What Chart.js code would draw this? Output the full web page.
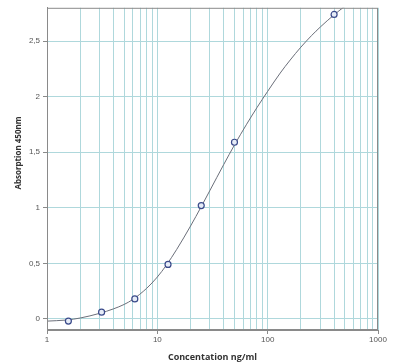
<!DOCTYPE html>
<html>
<head>
<meta charset="utf-8">
<script src="https://cdn.jsdelivr.net/npm/chart.js@4"></script>
<style>
  html, body { margin: 0; padding: 0; background: #fff; }
  #wrap { width: 399px; height: 363px; }
</style>
</head>
<body>
<div id="wrap"><canvas id="chart"></canvas></div>
<script>
// standard points (concentration ng/ml, absorption)
const stdConc = [1.5625, 3.125, 6.25, 12.5, 25, 50, 400];
const stdAbs = [-0.02, 0.06, 0.18, 0.49, 1.02, 1.59, 2.74];

// fitted curve
const fitConc = [1, 1.5, 2, 3, 4, 5, 6, 8, 10, 12, 15, 20, 25, 30, 40, 50, 64, 80, 100, 130, 160, 200, 250, 300, 400, 490];
const fitAbs = [-0.02, -0.01, 0.008, 0.05, 0.09, 0.13, 0.175, 0.275, 0.377, 0.48, 0.626, 0.836, 1.01, 1.157, 1.39, 1.565, 1.747, 1.902, 2.048, 2.213, 2.33, 2.446, 2.55, 2.627, 2.737, 2.807];

const yTicks = [0, 0.5, 1, 1.5, 2, 2.5];
const xMajor = [1, 10, 100, 1000];
const xMinorSteps = [1, 2, 3, 4, 5, 6, 7, 8, 9];

const GRID = '#afd8dc';
const AXIS = '#8a8a8a';
const TEXT = '#555';

const xTickValues = [];
xMajor.slice(0, -1).forEach((d) => xMinorSteps.forEach((m) => xTickValues.push(d * m)));
xTickValues.push(xMajor[xMajor.length - 1]);

const isMajor = (v) => xMajor.includes(v);

const frame = {
  id: 'frame',
  afterDraw(chart) {
    const { ctx, chartArea: a } = chart;
    ctx.save();
    ctx.strokeStyle = AXIS;
    ctx.lineWidth = 1;
    ctx.strokeRect(a.left + 0.5, a.top + 0.5, a.right - a.left - 1, a.bottom - a.top - 1);
    // y axis title
    ctx.translate(19, 153);
    ctx.rotate(-Math.PI / 2);
    ctx.fillStyle = '#333';
    ctx.font = 'bold 8px "Open Sans", "Liberation Sans", sans-serif';
    ctx.textAlign = 'center';
    ctx.textBaseline = 'middle';
    ctx.fillText('Absorption 450nm', 0, 0);
    ctx.restore();
  },
};

new Chart(document.getElementById('chart'), {
  type: 'scatter',
  data: {
    datasets: [
      {
        type: 'scatter',
        data: stdConc.map((x, i) => ({ x, y: stdAbs[i] })),
        pointRadius: 3,
        pointBorderWidth: 1.2,
        pointBorderColor: '#3a4a8a',
        pointBackgroundColor: '#e6ecf7',
        order: 0,
      },
      {
        type: 'line',
        data: fitConc.map((x, i) => ({ x, y: fitAbs[i] })),
        borderColor: '#6b6f7a',
        borderWidth: 1,
        pointRadius: 0,
        cubicInterpolationMode: 'monotone',
        fill: false,
        order: 1,
      },
    ],
  },
  options: {
    responsive: true,
    maintainAspectRatio: false,
    animation: false,
    layout: { padding: { top: 6, right: 21, left: 0, bottom: 0 } },
    plugins: { legend: { display: false }, tooltip: { enabled: false } },
    scales: {
      x: {
        type: 'logarithmic',
        min: 1,
        max: 1000,
        afterBuildTicks: (scale) => { scale.ticks = xTickValues.map((value) => ({ value })); },
        afterFit: (scale) => { scale.height = 33; },
        grid: {
          color: (c) => (c.tick && c.tick.value === 1 ? 'transparent' : GRID),
          tickColor: (c) => (c.tick && isMajor(c.tick.value) ? AXIS : 'transparent'),
          tickLength: 4,
        },
        border: { color: AXIS },
        ticks: {
          autoSkip: false,
          maxRotation: 0,
          padding: 1,
          color: TEXT,
          font: { size: 8, family: '"Liberation Sans", Arial, sans-serif' },
          callback: (v) => (isMajor(v) ? String(v) : ''),
        },
        title: {
          display: true,
          text: 'Concentation ng/ml',
          color: '#333',
          padding: { top: 1, bottom: 0 },
          font: { size: 9, weight: 'bold', family: '"Open Sans", "Liberation Sans", sans-serif' },
        },
      },
      y: {
        min: -0.1,
        max: 2.8,
        afterBuildTicks: (scale) => { scale.ticks = yTicks.map((value) => ({ value })); },
        afterFit: (scale) => { scale.width = 47; },
        grid: { color: GRID, tickColor: AXIS, tickLength: 4 },
        border: { color: AXIS },
        ticks: {
          padding: 3,
          color: TEXT,
          font: { size: 8, family: '"Liberation Sans", Arial, sans-serif' },
          callback: (v) => String(v).replace('.', ','),
        },
      },
    },
  },
  plugins: [frame],
});
</script>
</body>
</html>
